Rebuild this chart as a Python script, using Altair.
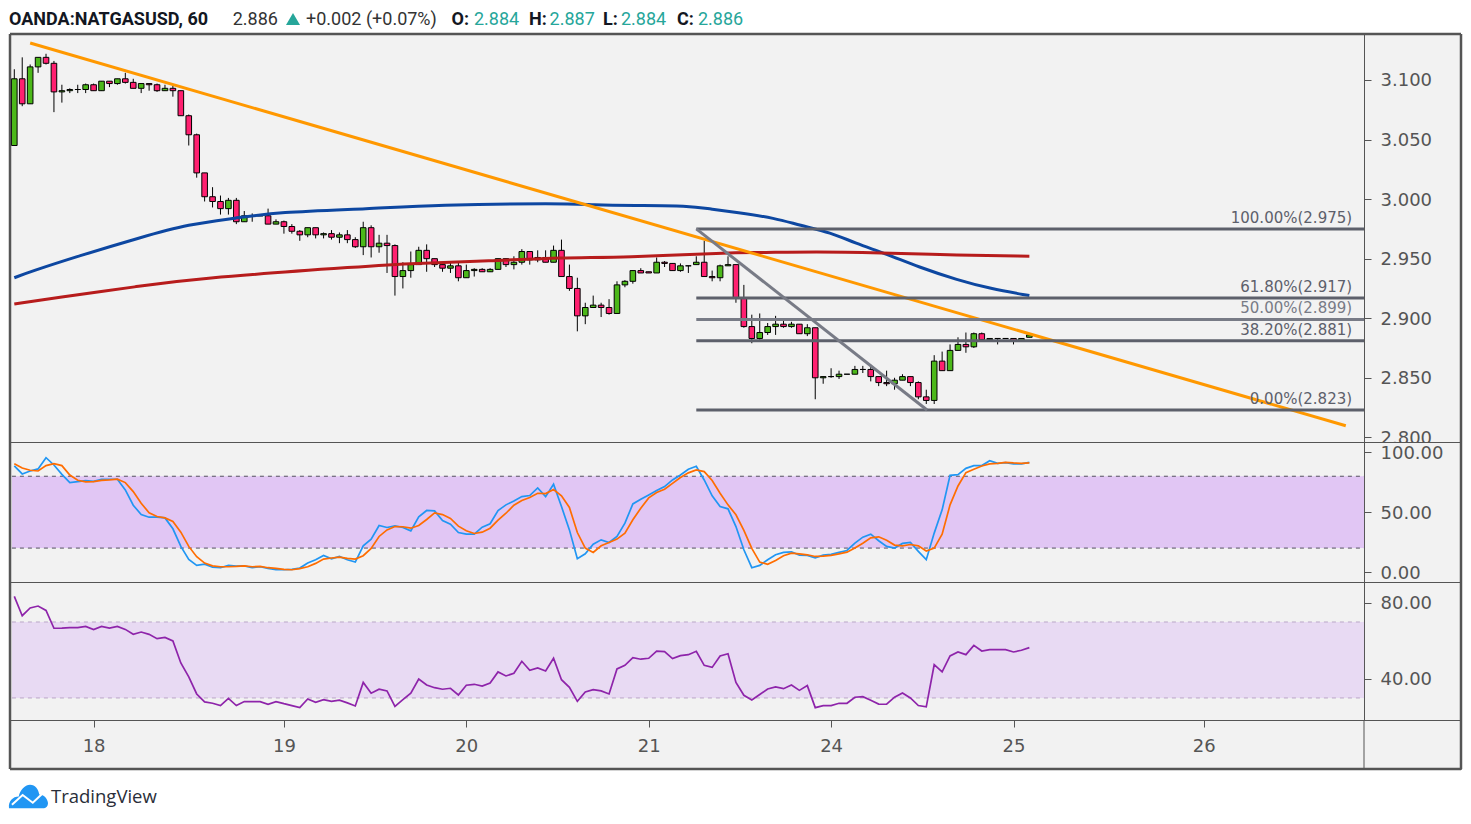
import altair as alt
import pandas as pd

# ---- candles -------------------------------------------------------------
opens = [3.045,3.101,3.080,3.111,3.119,3.114,3.090,3.091,3.092,3.092,3.096,3.091,3.099,3.097,3.101,3.098,3.093,3.097,3.096,3.091,
3.093,3.091,3.070,3.054,3.022,3.002,2.998,2.992,2.999,2.981,2.986,2.986,2.986,2.979,2.981,2.977,2.973,2.970,2.976,2.970,
2.971,2.968,2.970,2.966,2.960,2.976,2.960,2.963,2.961,2.935,2.940,2.945,2.957,2.950,2.945,2.942,2.944,2.934,2.940,2.941,
2.939,2.941,2.950,2.945,2.947,2.956,2.949,2.951,2.947,2.957,2.935,2.925,2.902,2.909,2.911,2.909,2.904,2.928,2.931,2.940,
2.939,2.938,2.947,2.946,2.940,2.944,2.945,2.947,2.935,2.934,2.944,2.945,2.917,2.893,2.883,2.888,2.893,2.895,2.893,2.895,
2.887,2.892,2.850,2.851,2.851,2.853,2.853,2.857,2.857,2.851,2.846,2.845,2.848,2.851,2.846,2.834,2.831,2.864,2.856,2.873,
2.878,2.876,2.887,2.882,2.883,2.883,2.883,2.881,2.884]
highs = [3.109,3.119,3.113,3.119,3.122,3.116,3.096,3.093,3.096,3.097,3.097,3.099,3.099,3.101,3.106,3.101,3.097,3.097,3.097,3.096,
3.095,3.091,3.071,3.055,3.022,3.010,3.003,3.001,3.001,2.990,2.988,2.986,2.992,2.983,2.982,2.979,2.974,2.976,2.976,2.972,
2.974,2.972,2.974,2.968,2.981,2.978,2.970,2.970,2.962,2.947,2.956,2.960,2.962,2.950,2.945,2.947,2.947,2.945,2.942,2.942,
2.942,2.950,2.950,2.952,2.958,2.956,2.957,2.957,2.961,2.966,2.945,2.934,2.913,2.919,2.913,2.916,2.931,2.932,2.940,2.942,
2.939,2.951,2.948,2.946,2.946,2.944,2.952,2.965,2.940,2.945,2.952,2.945,2.928,2.903,2.904,2.896,2.902,2.900,2.897,2.895,
2.895,2.892,2.851,2.858,2.856,2.853,2.860,2.860,2.861,2.851,2.856,2.850,2.853,2.851,2.847,2.840,2.869,2.872,2.878,2.884,
2.888,2.888,2.888,2.883,2.883,2.883,2.883,2.883,2.887]
lows = [3.045,3.078,3.080,3.106,3.113,3.073,3.081,3.089,3.089,3.089,3.091,3.091,3.094,3.096,3.097,3.093,3.089,3.091,3.090,3.091,
3.086,3.070,3.045,3.018,2.998,2.993,2.987,2.987,2.979,2.981,2.981,2.986,2.979,2.979,2.971,2.971,2.965,2.968,2.967,2.967,
2.966,2.963,2.963,2.959,2.953,2.951,2.955,2.938,2.919,2.925,2.934,2.945,2.939,2.943,2.939,2.938,2.931,2.934,2.935,2.939,
2.939,2.941,2.943,2.941,2.945,2.945,2.947,2.947,2.947,2.935,2.923,2.889,2.895,2.909,2.901,2.903,2.904,2.926,2.929,2.938,
2.938,2.938,2.943,2.940,2.939,2.938,2.945,2.935,2.931,2.931,2.944,2.913,2.892,2.879,2.882,2.886,2.886,2.892,2.892,2.887,
2.885,2.832,2.845,2.850,2.849,2.853,2.853,2.854,2.847,2.843,2.843,2.840,2.848,2.843,2.832,2.828,2.828,2.856,2.856,2.873,
2.871,2.875,2.881,2.882,2.878,2.883,2.878,2.881,2.884]
closes = [3.101,3.080,3.111,3.119,3.114,3.090,3.091,3.092,3.092,3.096,3.091,3.099,3.097,3.101,3.098,3.093,3.097,3.096,3.091,3.093,
3.091,3.070,3.054,3.022,3.002,2.998,2.992,2.999,2.981,2.986,2.986,2.986,2.979,2.981,2.977,2.973,2.970,2.976,2.970,2.971,
2.968,2.970,2.966,2.960,2.976,2.960,2.963,2.961,2.935,2.940,2.945,2.957,2.950,2.945,2.942,2.944,2.934,2.940,2.941,2.939,
2.941,2.950,2.945,2.947,2.956,2.949,2.951,2.947,2.957,2.935,2.925,2.902,2.909,2.911,2.909,2.904,2.928,2.931,2.940,2.938,
2.938,2.947,2.946,2.940,2.944,2.944,2.947,2.935,2.934,2.944,2.945,2.917,2.893,2.883,2.888,2.893,2.895,2.893,2.895,2.887,
2.892,2.850,2.851,2.851,2.853,2.853,2.857,2.857,2.851,2.846,2.845,2.848,2.851,2.846,2.834,2.831,2.864,2.856,2.873,2.878,
2.876,2.887,2.882,2.883,2.883,2.883,2.881,2.883,2.886]

# ---- moving averages (sampled by bar number) ------------------------------
ma_blue_i = [0,2,8,16,22,28,33,45,53,69,73,78,85,88,91,96,99,103,106,110,114,119,123,128]
ma_blue_v = [2.934,2.939,2.952,2.968,2.979,2.984,2.989,2.992,2.995,2.9966,2.995,2.9945,2.9946,2.9914,2.989,2.984,2.978,2.972,2.963,2.954,2.943,2.932,2.925,2.919]
ma_red_i = [0,5,16,22,45,50,60,69,77,90,94,101,109,119,128]
ma_red_v = [2.912,2.917,2.927,2.933,2.944,2.946,2.948,2.951,2.951,2.955,2.955,2.956,2.955,2.953,2.952]

# ---- drawings -------------------------------------------------------------
trend_i = [2.0,167.9]
trend_v = [3.131,2.8097]
diag_i = [86,115.1]
diag_v = [2.975,2.823]
fib_prices = [2.975,2.917,2.899,2.881,2.823]
fib_labels = ["100.00%(2.975)","61.80%(2.917)","50.00%(2.899)","38.20%(2.881)","0.00%(2.823)"]
fib_colors = ["#5d606b","#5d606b","#787b86","#5d606b","#5d606b"]
fib_start, fib_end, fib_text_at = 86, 170.2, 168.7

# ---- stochastic RSI -------------------------------------------------------
stoch_k = [88.6,81.9,84.4,86.1,95.5,89.4,81.6,74.7,75.5,76.4,75.8,77.5,77.5,77.5,68.6,55.8,48,45.8,45.8,45.2,
36.1,21.4,10.5,5.5,6.6,4.1,3.6,5.5,5,5.2,3.6,4.4,3,1.9,1.9,2.2,3.3,7.5,10.3,13.9,
11.1,13,10.3,8.3,21.9,27.5,38.9,37.2,38.6,37.2,34.4,46.1,51.4,51.1,43,40,33,31.6,31.6,37.5,
40.3,51.4,56.1,59.4,63,63.9,70.3,63,73.3,54.7,35.2,11.1,15.2,23.3,26.9,24.7,29.7,40.8,56.9,60.8,
64.4,68,71.4,76.9,81,85.8,88.3,76.9,63.6,54.7,52.8,38,18.6,3.6,5.5,10.3,14.4,16.4,16.9,14.1,
13.9,11.9,14.1,14.7,16.4,18,24.1,29.1,31.6,26.1,21.4,20,23.9,24.7,17.2,10.3,32.5,51.9,80.8,81.4,
86.6,88.9,88.9,93,90.8,91.4,90.3,90.3,91.6]
stoch_d = [90.5,86.9,85,84.4,88.9,90.5,88.9,81,76.6,75.3,75.5,76.6,76.9,77.5,74.7,67.2,57.5,49.4,46.4,45.2,
42.2,33.3,21.4,12.8,7.5,5.2,4.4,4.4,4.7,5.2,4.4,4.7,3.6,3,2.2,1.9,2.8,4.4,7.2,10.8,
11.7,12.5,11.4,10.8,13.6,19.7,29.7,35.2,38,37.8,36.6,38.9,43.9,49.4,48,44.7,38.3,34.4,32.2,33.3,
36.6,43.3,49.1,55.8,59.7,62.2,65.8,65.5,68.9,63.6,53.9,33,20,16.4,21.9,24.7,27.5,32.5,43.6,53.3,
61.9,66.4,69.1,74.1,78.9,82.8,85.3,83.9,76.4,65.8,56.1,47.8,34.7,19.7,8.3,6.4,9.7,13.6,15.8,15.2,
14.4,13,13.3,13.9,15.2,16.6,20,24.1,28.6,29.4,26.6,22.5,21.9,23,21.9,17.5,20,31.6,56.1,71.9,
83,85.8,88.6,90.3,90.8,91.6,91.1,90.8,91.1]

# ---- RSI ------------------------------------------------------------------
rsi = [83.5,73.3,77.4,78.4,76.1,66.7,66.8,67,67,67.7,66,67.7,66.8,67.7,66.1,63.5,64.7,63.5,61.2,61.9,
60,48.4,41.1,32.1,27.9,27.2,26,29.8,26,28.1,28.1,28.1,26.7,28.1,27,26,24.9,29.5,27.7,29.1,
28.2,28.8,27.4,25.8,38.2,32.5,34.6,33.7,25.6,29.1,32.5,40,36.8,35.4,34.6,35.1,31.6,36.7,37.2,36.3,
37.9,43.7,41.6,43,49.3,44.6,45.8,44.2,50.9,39.6,35.6,28.2,33.2,34.4,33.7,32.1,45.3,47.2,51.2,50.4,
50.9,54.7,54.4,50.7,52.3,52.8,54.6,47.2,46.1,52.1,53.3,38.2,31.4,28.9,31.8,34.7,35.8,34.9,36.8,34,
36.5,24.9,26,26,27.2,27.2,30.4,30.7,28.8,26.8,26.7,30.4,32.6,30,26,25.3,47.5,43.7,52.1,54.2,
52.8,57.7,54.7,55.4,55.4,55.4,54.2,55.1,56.5]

# ---- axes -----------------------------------------------------------------
day_ticks = [10,34,57,80,103,126,150]
day_labels = ["18","19","20","21","24","25","26"]
price_ticks = [2.8,2.85,2.9,2.95,3.0,3.05,3.1]
stoch_ticks = [0,50,100]
rsi_ticks = [40,80]

X_MIN, X_MAX, X_AXIS = -0.542, 182.43, 170.2
W = 1451
STRIP_H = 49
GRID = "#555555"
FONT = "Roboto"
AXFONT = "DejaVu Sans"
AXSIZE = 18

xs = alt.Scale(domain=[X_MIN, X_MAX], nice=False, zero=False, padding=0)
n = list(range(len(opens)))
candles = pd.DataFrame({"i": n, "o": opens, "h": highs, "l": lows, "c": closes})
candles["dir"] = ["up" if c >= o else "down" for o, c in zip(opens, closes)]
one = alt.Data(values=[{}])

def yaxis(values, fmt):
    return alt.Axis(values=values, format=fmt, orient="right", offset=W * (X_AXIS - X_MAX) / (X_MAX - X_MIN),
                    title=None, grid=False, domainColor=GRID, tickColor=GRID, tickSize=7,
                    labelColor="#555555", labelFont=AXFONT, labelFontSize=AXSIZE, labelPadding=9, labelOffset=1,
                    labelOverlap=False, labelFlush=False, domainWidth=1, tickWidth=1)

def frame(xa=None, top=False, bottom=False):
    parts = [alt.Chart(one).mark_rule(color=GRID, strokeWidth=2.5).encode(x=alt.X(datum=X_MIN, scale=xs, axis=xa)),
             alt.Chart(one).mark_rule(color=GRID, strokeWidth=2.5).encode(x=alt.X(datum=X_MAX, scale=xs, axis=xa))]
    if top:
        parts.append(alt.Chart(one).mark_rule(color=GRID, strokeWidth=2.5).encode(x=alt.value(0), x2=alt.value(W), y=alt.value(0)))
    if bottom:
        parts.append(alt.Chart(one).mark_rule(color=GRID, strokeWidth=2.5).encode(x=alt.value(0), x2=alt.value(W), y=alt.value(STRIP_H)))
    return parts

BASE = -9
def label(txt, x, color, size=18, weight="normal", y=BASE, font=FONT):
    return alt.Chart(one).mark_text(align="left", baseline="alphabetic", font=font, fontSize=size, fontWeight=weight,
                                    color=color).encode(x=alt.value(x), y=alt.value(y), text=alt.value(txt))

def line(i, v, color, width, scale, ya, xa=None, interp="linear"):
    df = pd.DataFrame({"i": i, "v": v})
    return alt.Chart(df).mark_line(color=color, strokeWidth=width, interpolate=interp).encode(
        x=alt.X("i:Q", scale=xs, axis=xa), y=alt.Y("v:Q", scale=scale, axis=ya))

# ---- price panel ----------------------------------------------------------
ys = alt.Scale(domain=[2.7961, 3.1386], nice=False, zero=False)
ya_price = yaxis(price_ticks, ".3f")
wicks = alt.Chart(candles).mark_rule(color="black", strokeWidth=1).encode(
    x=alt.X("i:Q", scale=xs, axis=None),
    y=alt.Y("l:Q", scale=ys, axis=ya_price),
    y2="h:Q")
bodies = alt.Chart(candles).mark_bar(size=5.6, stroke="black", strokeWidth=1, orient="vertical").encode(
    x=alt.X("i:Q", scale=xs, axis=None),
    y=alt.Y("o:Q", scale=ys, axis=ya_price),
    y2="c:Q",
    color=alt.Color("dir:N", scale=alt.Scale(domain=["up", "down"], range=["#4cb81a", "#ff2070"]), legend=None))

fib = pd.DataFrame({"a": [fib_start] * 5, "b": [fib_end] * 5, "t": [fib_text_at] * 5,
                    "p": fib_prices, "s": fib_labels, "col": fib_colors})
fib_lines = alt.Chart(fib).mark_rule(strokeWidth=3).encode(
    x=alt.X("a:Q", scale=xs, axis=None), x2="b:Q", y=alt.Y("p:Q", scale=ys, axis=ya_price),
    color=alt.Color("col:N", scale=None, legend=None))
fib_text = alt.Chart(fib).mark_text(align="right", baseline="middle", dy=-11, font=AXFONT, fontSize=15).encode(
    x=alt.X("t:Q", scale=xs, axis=None), y=alt.Y("p:Q", scale=ys, axis=ya_price), text="s:N",
    color=alt.Color("col:N", scale=None, legend=None))

triangle = alt.Chart(one).mark_point(shape="triangle-up", size=196, filled=True, color="#26a69a", opacity=1).encode(
    x=alt.value(283), y=alt.value(BASE - 6))
header = [
    label("OANDA:NATGASUSD, 60", -1, "#131722", 18, "bold"),
    label("2.886", 222.7, "#333333"),
    triangle,
    label("+0.002 (+0.07%)", 296, "#333333"),
    label("O:", 441.6, "#131722", 18, "bold"),
    label("2.884", 464, "#26a69a"),
    label("H:", 519, "#131722", 18, "bold"),
    label("2.887", 539.6, "#26a69a"),
    label("L:", 593, "#131722", 18, "bold"),
    label("2.884", 611, "#26a69a"),
    label("C:", 667, "#131722", 18, "bold"),
    label("2.886", 688, "#26a69a"),
]

price = alt.layer(
    wicks, bodies,
    line(ma_blue_i, ma_blue_v, "#0d47a1", 3, ys, ya_price, interp="basis"),
    line(ma_red_i, ma_red_v, "#b71c1c", 3, ys, ya_price, interp="basis"),
    line(trend_i, trend_v, "#ff9800", 3, ys, ya_price),
    fib_lines,
    line(diag_i, diag_v, "#787b86", 3, ys, ya_price),
    fib_text,
    *frame(top=True),
    *header,
).properties(width=W, height=408)

# ---- indicator bands ------------------------------------------------------
def band(lo, hi, fill, dash_color, scale, ya):
    df = pd.DataFrame({"a": [-0.3], "b": [X_AXIS], "lo": [lo], "hi": [hi]})
    rect = alt.Chart(df).mark_rect(fill=fill).encode(
        x=alt.X("a:Q", scale=xs, axis=None), x2="b:Q",
        y=alt.Y("lo:Q", scale=scale, axis=ya), y2="hi:Q")
    ldf = pd.DataFrame({"a": [-0.3, -0.3], "b": [X_AXIS, X_AXIS], "v": [lo, hi]})
    rules = alt.Chart(ldf).mark_rule(color=dash_color, strokeDash=[4, 4], strokeWidth=1).encode(
        x=alt.X("a:Q", scale=xs, axis=None), x2="b:Q", y=alt.Y("v:Q", scale=scale, axis=ya))
    return [rect, rules]

# ---- stochastic panel -----------------------------------------------------
ss = alt.Scale(domain=[-8.33, 108.6], nice=False, zero=False)
ya_stoch = yaxis(stoch_ticks, ".2f")
stoch = alt.layer(
    *band(20, 80, "#e1c6f4", "#555060", ss, ya_stoch),
    line(n, stoch_k, "#2196f3", 1.7, ss, ya_stoch),
    line(n, stoch_d, "#ff6d00", 1.7, ss, ya_stoch),
    *frame(),
).properties(width=W, height=140)

# ---- RSI panel ------------------------------------------------------------
rs = alt.Scale(domain=[18.4, 91.05], nice=False, zero=False)
ya_rsi = yaxis(rsi_ticks, ".2f")
rsi_panel = alt.layer(
    *band(30, 70, "#e8daf3", "#b9a6c6", rs, ya_rsi),
    line(n, rsi, "#8e24aa", 1.7, rs, ya_rsi),
    *frame(),
).properties(width=W, height=138)

# ---- bottom strip: day axis and the logo ----------------------------------
label_expr = "[" + ",".join(f"'{s}'" for s in day_labels) + "][indexof([" + ",".join(map(str, day_ticks)) + "], datum.value)]"
xa_days = alt.Axis(values=day_ticks, labelExpr=label_expr, title=None, grid=False, orient="bottom", offset=-STRIP_H,
                   domain=False, tickColor=GRID, tickSize=7, labelColor="#555555",
                   labelFont=AXFONT, labelFontSize=AXSIZE, labelPadding=10,
                   labelOverlap=False, labelFlush=False)
cloud = ("M-1,0.6 C-1.05,0.25 -0.8,0 -0.5,0 C-0.45,-0.3 -0.2,-0.6 0.08,-0.6 C0.35,-0.6 0.52,-0.35 0.55,-0.1 "
         "C0.85,-0.1 1,0.2 1,0.35 C1,0.5 0.9,0.6 0.8,0.6 Z")
zig = "M-0.85,0.42 L-0.3,-0.08 L0.22,0.32 L0.72,-0.15"
logo = [
    alt.Chart(one).mark_point(shape=cloud, size=1521, filled=True, color="#2196f3", opacity=1).encode(
        x=alt.value(18.5), y=alt.value(76.5)),
    alt.Chart(one).mark_point(shape=zig, size=1521, filled=False, color="white", strokeWidth=2, opacity=1).encode(
        x=alt.value(18.5), y=alt.value(76.5)),
    alt.Chart(one).mark_text(align="left", baseline="alphabetic", font="Open Sans", fontSize=18.5, color="#2a2e39").encode(
        x=alt.value(41), y=alt.value(83), text=alt.value("TradingView")),
]
strip = alt.layer(
    alt.Chart(one).mark_rule(color=GRID, strokeWidth=1).encode(x=alt.X(datum=X_AXIS, scale=xs, axis=xa_days)),
    *frame(xa_days, bottom=True),
    *logo,
).properties(width=W, height=STRIP_H)

chart = alt.vconcat(price, stoch, rsi_panel, strip, spacing=0, bounds="flush").properties(
    padding={"left": -1, "top": 2, "right": 0, "bottom": 0}
).configure(background="white").configure_view(fill="#f2f2f2", stroke=GRID, strokeWidth=1)

chart.save("out.html", embed_options={"renderer": "svg", "actions": False})
